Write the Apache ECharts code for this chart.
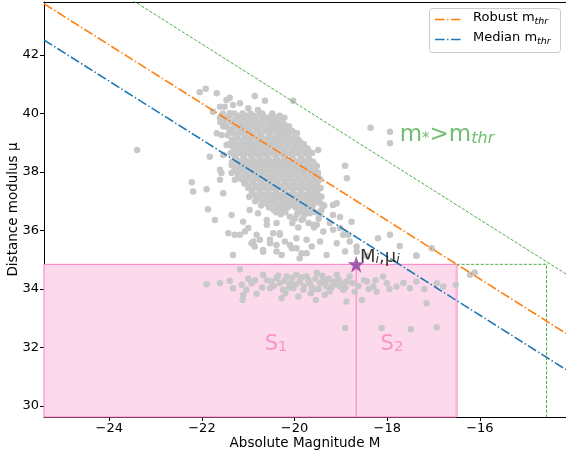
<!DOCTYPE html>
<html><head><meta charset="utf-8">
<script src="https://cdn.jsdelivr.net/npm/echarts@6/dist/echarts.min.js"></script>
<style>html,body{margin:0;padding:0;background:#fff}#c{width:566px;height:454px}</style>
</head><body><div id="c"></div>
<script>
// ---- axis ranges & ticks ----
const xRange = [-25.41, -14.14];
const yRange = [29.62, 43.81];
const xTicks = [-24, -22, -20, -18, -16];
const yTicks = [30, 32, 34, 36, 38, 40, 42];
// ---- thresholds (mu = m - M) ----
const robustMthr = 18.34;
const medianMthr = 17.10;
const limitMthr = 20.37;
// ---- reference galaxy ----
const refPoint = [-18.67, 34.84];
const s2RightM = -16.50;
const limitBoxM = -14.56;
// ---- galaxies [M, mu] ----
const galaxiesSparse = [
[-23.40,38.75],[-22.22,37.65],[-22.05,40.72],[-21.92,40.84],[-21.68,40.69],[-21.47,40.46],[-21.40,40.54],[-21.51,40.23],
[-21.33,40.29],[-21.18,40.35],[-20.86,40.60],[-20.64,40.43],[-20.79,40.12],[-21.00,40.18],[-21.11,39.95],[-20.93,39.89],
[-20.75,39.95],[-20.39,39.84],[-20.32,39.61],[-21.61,39.84],[-21.54,39.55],[-21.68,39.32],[-21.58,39.26],[-21.83,38.52],
[-21.54,38.58],[-21.36,38.24],[-21.58,37.96],[-21.36,37.96],[-20.03,40.43],[-20.14,39.15],[-19.49,38.75],[-20.32,39.26],
[-21.61,40.23],[-21.76,40.06],[-21.40,40.01],[-21.47,38.92],[-21.61,38.07],[-21.61,37.73],[-21.90,37.41],
[-22.19,37.33],[-21.87,36.72],[-21.72,36.36],[-21.54,37.27],[-21.36,36.53],[-21.43,35.90],[-21.29,35.85],[-21.18,35.85],
[-21.33,35.16],[-20.93,35.56],[-20.75,35.68],[-20.86,35.45],[-20.53,35.56],[-20.39,35.28],[-20.28,35.16],[-20.10,35.50],
[-19.96,35.39],[-19.85,35.22],[-19.74,35.68],[-19.63,35.45],[-19.45,35.62],[-19.31,35.16],[-19.17,36.87],[-18.77,36.30],
[-18.95,35.85],[-19.09,35.56],[-19.60,36.19],[-19.38,35.96],[-20.46,35.90],[-20.32,35.90],[-20.60,36.19],
[-21.11,36.30],[-21.00,36.08],[-21.07,35.96],[-20.82,35.85],[-20.89,35.62],[-20.68,35.33],[-20.53,35.68],[-20.32,35.85],
[-20.39,35.50],[-20.21,35.62],[-19.96,35.73],[-20.06,35.39],[-19.74,35.22],[-19.89,35.05],[-19.09,36.93],[-19.17,36.53],
[-19.24,36.25],[-19.02,36.08],[-18.84,35.85],[-18.66,35.45],[-18.91,35.28],[-19.67,36.59],[-19.52,36.19],[-19.85,36.36],
[-20.10,36.47],[-20.21,36.70],[-20.39,36.25],[-20.60,36.36],[-20.79,36.59],[-20.97,36.70],[-21.29,37.73],
[-18.36,39.51],[-17.94,39.37],[-17.94,38.98],[-18.91,38.21],[-18.87,37.78],[-19.02,36.46],[-19.17,36.02],[-18.91,35.90],
[-18.81,35.62],[-18.20,35.73],[-17.94,35.85],[-17.73,35.47],[-17.37,35.14],[-17.04,35.39],[-16.11,34.56],[-16.21,34.48],
[-20.68,35.27],[-18.66,35.27],[-18.44,35.13],[-17.37,35.13]
];
const galaxiesCore = [
[-21.55,40.00],[-21.30,40.00],[-21.12,40.00],[-20.95,40.00],[-20.70,40.00],[-20.48,40.00],
[-21.45,39.85],[-21.22,39.85],[-21.02,39.85],[-20.85,39.85],[-20.60,39.85],[-20.42,39.85],[-20.22,39.85],
[-21.60,39.70],[-21.38,39.70],[-21.15,39.70],[-20.98,39.70],[-20.78,39.70],[-20.55,39.70],[-20.35,39.70],
[-21.48,39.55],[-21.28,39.55],[-21.08,39.55],[-20.90,39.55],[-20.70,39.55],[-20.50,39.55],[-20.28,39.55],[-20.12,39.55],
[-21.40,39.40],[-21.20,39.40],[-21.00,39.40],[-20.82,39.40],[-20.62,39.40],[-20.44,39.40],[-20.25,39.40],[-20.05,39.40],
[-21.45,39.25],[-21.25,39.25],[-21.08,39.25],[-20.92,39.25],[-20.75,39.25],[-20.55,39.25],[-20.38,39.25],[-20.18,39.25],[-19.98,39.25],
[-21.35,39.10],[-21.15,39.10],[-20.98,39.10],[-20.80,39.10],[-20.62,39.10],[-20.45,39.10],[-20.28,39.10],[-20.10,39.10],[-19.92,39.10],
[-21.42,38.95],[-21.22,38.95],[-21.05,38.95],[-20.88,38.95],[-20.70,38.95],[-20.52,38.95],[-20.35,38.95],[-20.15,38.95],[-19.98,38.95],[-19.80,38.95],
[-21.30,38.80],[-21.12,38.80],[-20.95,38.80],[-20.78,38.80],[-20.60,38.80],[-20.42,38.80],[-20.25,38.80],[-20.05,38.80],[-19.88,38.80],[-19.72,38.80],
[-21.38,38.65],[-21.20,38.65],[-21.02,38.65],[-20.85,38.65],[-20.68,38.65],[-20.50,38.65],[-20.32,38.65],[-20.14,38.65],[-19.95,38.65],[-19.78,38.65],[-19.62,38.65],
[-21.28,38.50],[-21.10,38.50],[-20.92,38.50],[-20.75,38.50],[-20.58,38.50],[-20.40,38.50],[-20.22,38.50],[-20.05,38.50],[-19.86,38.50],[-19.70,38.50],
[-21.35,38.35],[-21.18,38.35],[-21.00,38.35],[-20.82,38.35],[-20.65,38.35],[-20.48,38.35],[-20.30,38.35],[-20.12,38.35],[-19.95,38.35],[-19.78,38.35],[-19.60,38.35],
[-21.25,38.20],[-21.08,38.20],[-20.90,38.20],[-20.72,38.20],[-20.55,38.20],[-20.38,38.20],[-20.20,38.20],[-20.02,38.20],[-19.85,38.20],[-19.68,38.20],[-19.52,38.20],
[-21.30,38.05],[-21.12,38.05],[-20.95,38.05],[-20.78,38.05],[-20.60,38.05],[-20.42,38.05],[-20.25,38.05],[-20.08,38.05],[-19.90,38.05],[-19.72,38.05],[-19.58,38.05],
[-21.22,37.90],[-21.05,37.90],[-20.88,37.90],[-20.70,37.90],[-20.52,37.90],[-20.35,37.90],[-20.18,37.90],[-20.00,37.90],[-19.82,37.90],[-19.65,37.90],[-19.50,37.90],
[-21.15,37.75],[-20.98,37.75],[-20.80,37.75],[-20.62,37.75],[-20.45,37.75],[-20.28,37.75],[-20.10,37.75],[-19.92,37.75],[-19.75,37.75],[-19.58,37.75],[-19.45,37.75],
[-21.08,37.60],[-20.90,37.60],[-20.72,37.60],[-20.55,37.60],[-20.38,37.60],[-20.20,37.60],[-20.02,37.60],[-19.85,37.60],[-19.68,37.60],[-19.52,37.60],
[-21.00,37.45],[-20.82,37.45],[-20.65,37.45],[-20.48,37.45],[-20.30,37.45],[-20.12,37.45],[-19.95,37.45],[-19.78,37.45],[-19.60,37.45],[-19.44,37.45],
[-20.92,37.30],[-20.75,37.30],[-20.58,37.30],[-20.40,37.30],[-20.22,37.30],[-20.05,37.30],[-19.88,37.30],[-19.70,37.30],[-19.55,37.30],
[-20.98,37.15],[-20.80,37.15],[-20.62,37.15],[-20.45,37.15],[-20.28,37.15],[-20.10,37.15],[-19.92,37.15],[-19.75,37.15],[-19.60,37.15],[-19.42,37.15],
[-20.85,37.00],[-20.68,37.00],[-20.50,37.00],[-20.32,37.00],[-20.15,37.00],[-19.98,37.00],[-19.80,37.00],[-19.64,37.00],[-19.48,37.00],
[-20.72,36.85],[-20.38,36.85],[-20.20,36.85],[-20.02,36.85],[-19.85,36.85],[-19.68,36.85],[-19.36,36.85],
[-20.45,36.70],[-20.28,36.70],[-19.92,36.70],[-19.75,36.70],[-19.42,36.70],
[-20.30,36.55],[-19.95,36.55],[-19.78,36.55],[-19.45,36.55],
[-20.00,36.40],[-19.82,36.40],[-19.48,36.40],
[-20.05,36.25],[-19.70,36.25],
[-19.92,36.10],[-19.58,36.10]
];
const galaxiesCoreFill = [
[-21.40,39.92],[-21.20,39.92],[-21.05,39.92],[-20.88,39.92],[-20.68,39.92],[-20.50,39.92],[-20.32,39.92],
[-21.50,39.78],[-21.28,39.78],[-21.08,39.78],[-20.90,39.78],[-20.70,39.78],[-20.45,39.78],[-20.28,39.78],
[-21.52,39.62],[-21.18,39.62],[-21.00,39.62],[-20.82,39.62],[-20.62,39.62],[-20.42,39.62],[-20.22,39.62],
[-21.35,39.48],[-21.15,39.48],[-20.98,39.48],[-20.78,39.48],[-20.55,39.48],[-20.35,39.48],[-20.18,39.48],
[-21.32,39.32],[-21.12,39.32],[-20.90,39.32],[-20.72,39.32],[-20.52,39.32],[-20.32,39.32],[-20.12,39.32],[-19.95,39.32],
[-21.25,39.18],[-21.05,39.18],[-20.88,39.18],[-20.70,39.18],[-20.52,39.18],[-20.35,39.18],[-20.18,39.18],[-20.00,39.18],
[-21.30,39.02],[-21.12,39.02],[-20.95,39.02],[-20.78,39.02],[-20.60,39.02],[-20.42,39.02],[-20.25,39.02],[-20.05,39.02],[-19.88,39.02],
[-21.35,38.88],[-21.20,38.88],[-21.02,38.88],[-20.85,38.88],[-20.68,38.88],[-20.50,38.88],[-20.32,38.88],[-20.14,38.88],[-19.96,38.88],[-19.80,38.88],
[-21.28,38.72],[-21.10,38.72],[-20.92,38.72],[-20.75,38.72],[-20.58,38.72],[-20.40,38.72],[-20.22,38.72],[-20.02,38.72],[-19.86,38.72],[-19.70,38.72],
[-21.30,38.58],[-21.12,38.58],[-20.95,38.58],[-20.78,38.58],[-20.60,38.58],[-20.42,38.58],[-20.25,38.58],[-20.05,38.58],[-19.88,38.58],[-19.72,38.58],
[-21.25,38.42],[-21.08,38.42],[-20.90,38.42],[-20.72,38.42],[-20.55,38.42],[-20.38,38.42],[-20.20,38.42],[-20.02,38.42],[-19.85,38.42],[-19.68,38.42],
[-21.30,38.28],[-21.15,38.28],[-20.98,38.28],[-20.80,38.28],[-20.62,38.28],[-20.45,38.28],[-20.28,38.28],[-20.10,38.28],[-19.92,38.28],[-19.75,38.28],[-19.58,38.28],
[-21.20,38.12],[-21.02,38.12],[-20.85,38.12],[-20.68,38.12],[-20.50,38.12],[-20.32,38.12],[-20.15,38.12],[-19.98,38.12],[-19.80,38.12],[-19.62,38.12],
[-21.22,37.98],[-21.05,37.98],[-20.88,37.98],[-20.70,37.98],[-20.52,37.98],[-20.35,37.98],[-20.16,37.98],[-19.98,37.98],[-19.80,37.98],[-19.64,37.98],[-19.50,37.98],
[-21.15,37.82],[-20.98,37.82],[-20.80,37.82],[-20.62,37.82],[-20.45,37.82],[-20.28,37.82],[-20.10,37.82],[-19.92,37.82],[-19.74,37.82],[-19.56,37.82],
[-21.08,37.68],[-20.90,37.68],[-20.72,37.68],[-20.55,37.68],[-20.38,37.68],[-20.20,37.68],[-20.02,37.68],[-19.84,37.68],[-19.66,37.68],[-19.50,37.68],
[-21.00,37.52],[-20.82,37.52],[-20.65,37.52],[-20.46,37.52],[-20.28,37.52],[-20.10,37.52],[-19.92,37.52],[-19.75,37.52],[-19.58,37.52],
[-20.92,37.38],[-20.75,37.38],[-20.58,37.38],[-20.40,37.38],[-20.22,37.38],[-20.04,37.38],[-19.86,37.38],[-19.68,37.38],[-19.50,37.38],
[-20.88,37.22],[-20.70,37.22],[-20.52,37.22],[-20.35,37.22],[-20.18,37.22],[-20.00,37.22],[-19.82,37.22],[-19.66,37.22],[-19.50,37.22],
[-20.78,37.08],[-20.60,37.08],[-20.42,37.08],[-20.25,37.08],[-20.06,37.08],[-19.88,37.08],[-19.72,37.08],[-19.56,37.08],
[-20.62,36.92],[-20.45,36.92],[-20.28,36.92],[-20.10,36.92],[-19.92,36.92],[-19.75,36.92],[-19.58,36.92],[-19.44,36.92],
[-20.55,36.78],[-20.35,36.78],[-20.15,36.78],[-19.98,36.78],[-19.80,36.78],[-19.62,36.78],
[-20.40,36.62],[-20.20,36.62],[-19.88,36.62],[-19.55,36.62]
];
const galaxiesLow = [
[-21.18,34.67],[-21.90,34.16],[-21.61,34.19],[-21.40,34.28],[-21.33,34.02],[-21.14,34.14],[-21.04,33.97],[-20.93,34.19],
[-21.11,33.79],[-20.82,33.83],[-20.68,34.48],[-20.50,34.25],[-20.53,34.02],[-20.39,34.37],[-20.32,34.19],[-20.25,33.97],
[-20.28,33.68],[-20.17,34.42],[-20.10,34.19],[-20.03,34.02],[-19.96,34.48],[-19.89,34.25],[-19.81,33.97],[-19.92,33.74],
[-19.74,34.42],[-19.67,34.19],[-19.60,33.97],[-19.52,34.54],[-19.45,34.19],[-19.38,34.31],[-19.31,34.08],[-19.24,33.91],
[-19.17,34.25],[-19.09,34.48],[-19.02,34.08],[-18.95,33.97],[-18.88,34.25],[-18.81,34.42],[-18.88,33.57],[-18.55,33.62],
[-18.44,34.25],[-18.30,34.08],[-18.23,33.91],[-18.09,34.42],[-18.01,34.19],[-17.80,34.08],[-17.51,34.02],[-17.37,34.25],
[-17.15,33.51],[-16.93,34.19],[-16.79,34.08],[-16.52,34.14],[-18.91,32.66],[-18.12,32.66],[-17.49,32.62],[-16.93,32.69],
[-19.54,33.62],[-21.12,33.62],
[-20.60,34.30],[-20.45,34.10],[-20.35,34.45],[-20.22,34.28],[-20.12,34.05],[-20.05,34.38],[-19.98,34.15],[-19.85,34.40],
[-19.80,34.10],[-19.70,34.30],[-19.62,34.05],[-19.55,34.35],[-19.48,34.00],[-19.40,34.45],[-19.33,34.18],[-19.26,34.35],
[-19.20,34.05],[-19.12,34.15],[-19.05,34.32],[-18.98,34.18],[-18.90,34.05],[-18.75,34.20],[-18.62,34.10],[-18.50,34.30],
[-18.40,34.00],[-20.70,34.05],[-20.85,34.30],[-21.00,34.35],[-20.20,33.85],[-19.65,33.85],[-19.35,33.80],[-18.70,33.90],
[-18.25,34.30],[-17.95,34.00],[-17.65,34.20],[-17.20,34.00]
];
// ---- labels ----
const xName = 'Absolute Magnitude M';
const yName = 'Distance modulus \u03bc';
const legendNames = ['Robust m', 'Median m'];

const FONT = 'DejaVu Sans';
const PINK = '#f781bf', GREEN = '#4daf4a', ORANGE = '#ff7f0e', BLUE = '#1f77b4', GREY = '#c8c8c8', PURPLE = '#984ea3';
const fmt = v => v < 0 ? '\u2212' + Math.abs(v) : String(v);
const lineOf = m => [[xRange[0], m - xRange[0]], [xRange[1], m - xRange[1]]];
const DASHDOT = [9.6, 2.4, 1.5, 2.4];

const chart = echarts.init(document.getElementById('c'), null, {renderer: 'canvas'});
const axisCommon = {
  type: 'value', splitLine: {show: false},
  axisLine: {show: true, onZero: false, lineStyle: {color: '#000', width: 1}},
  nameMoveOverlap: false,
  nameTextStyle: {fontFamily: FONT, fontSize: 13.5, color: '#000'}
};
const sub = (size, italic) => ({fontFamily: FONT, fontSize: size, fontStyle: italic ? 'italic' : 'normal', lineHeight: size, verticalAlign: 'bottom'});
const annot = (val, fmtStr, rich) => ({value: val, label: {show: true, position: 'inside', formatter: fmtStr, rich: rich}});

chart.setOption({
  animation: false,
  backgroundColor: '#fff',
  textStyle: {fontFamily: FONT},
  grid: {left: 44, right: 0, top: 2, bottom: 37, containLabel: false, outerBoundsMode: 'none'},
  xAxis: [
    Object.assign({}, axisCommon, {
      min: xRange[0], max: xRange[1], position: 'bottom',
      axisTick: {show: true, customValues: xTicks, length: 4, lineStyle: {color: '#000'}},
      axisLabel: {customValues: xTicks, formatter: fmt, fontFamily: FONT, fontSize: 13, color: '#000', margin: 5},
      name: xName, nameLocation: 'middle', nameGap: 19
    }),
    Object.assign({}, axisCommon, {min: xRange[0], max: xRange[1], position: 'top', axisTick: {show: false}, axisLabel: {show: false}})
  ],
  yAxis: Object.assign({}, axisCommon, {
    min: yRange[0], max: yRange[1],
    axisTick: {show: true, customValues: yTicks, length: 4, lineStyle: {color: '#000'}},
    axisLabel: {customValues: yTicks, formatter: fmt, fontFamily: FONT, fontSize: 13, color: '#000', margin: 5},
    name: yName, nameLocation: 'middle', nameGap: 24
  }),
  series: [
    {
      type: 'custom', z: 1, silent: true,
      data: [[xRange[0], yRange[0], s2RightM, refPoint[1]]],
      renderItem: (params, api) => {
        const a = api.coord([api.value(0), api.value(3)]);
        const b = api.coord([api.value(2), api.value(1)]);
        return {type: 'group', children: [
          {type: 'rect', shape: {x: a[0], y: a[1], width: b[0] - a[0], height: b[1] - a[1]}, style: {fill: '#fdd9ec', stroke: PINK, lineWidth: 1}},
          {type: 'line', shape: {x1: b[0], y1: a[1], x2: b[0], y2: b[1]}, style: {stroke: '#f9b6d8', lineWidth: 2.5}}
        ]};
      }
    },
    {type: 'line', z: 2, silent: true, symbol: 'none', data: [[refPoint[0], yRange[0]], refPoint], lineStyle: {color: PINK, width: 1}},
    {type: 'scatter', z: 3, silent: true, symbolSize: 6.5, itemStyle: {color: GREY, opacity: 1},
      data: galaxiesCore.concat(galaxiesCoreFill, galaxiesSparse, galaxiesLow)},
    {type: 'line', z: 4, symbol: 'none', data: lineOf(limitMthr), lineStyle: {color: GREEN, width: 1, type: [3.2, 1.6]}},
    {type: 'line', z: 4, symbol: 'none', data: [[s2RightM, refPoint[1]], [limitBoxM, refPoint[1]], [limitBoxM, yRange[0]]], lineStyle: {color: GREEN, width: 1, type: [3.2, 1.6]}},
    {type: 'line', z: 5, symbol: 'none', data: lineOf(robustMthr), lineStyle: {color: ORANGE, width: 1.6, type: DASHDOT}},
    {type: 'line', z: 5, symbol: 'none', data: lineOf(medianMthr), lineStyle: {color: BLUE, width: 1.6, type: DASHDOT}},
    {type: 'scatter', z: 6, symbol: 'path://M50,0 L61.8,35.5 L100,35.5 L69.1,57.3 L80.9,93.5 L50,71.5 L19.1,93.5 L30.9,57.3 L0,35.5 L38.2,35.5 Z',
      symbolSize: 17, itemStyle: {color: PURPLE, opacity: 0.9}, data: [refPoint]},
    {type: 'scatter', z: 7, symbolSize: 1, itemStyle: {color: 'transparent'}, silent: true,
      data: [
        annot([-18.16, 35.09], '{a|M}{s|i}{a|,\u03bc}{s|i}', {a: {fontFamily: FONT, fontSize: 18, color: '#000', lineHeight: 18, verticalAlign: 'top'}, s: Object.assign(sub(12.5, true), {color: '#000'})}),
        annot([-20.40, 32.10], '{a|S}{s|1}', {a: {fontFamily: FONT, fontSize: 21, color: PINK, lineHeight: 21, verticalAlign: 'top'}, s: Object.assign(sub(14.5, false), {color: PINK})}),
        annot([-17.90, 32.10], '{a|S}{s|2}', {a: {fontFamily: FONT, fontSize: 21, color: PINK, lineHeight: 21, verticalAlign: 'top'}, s: Object.assign(sub(14.5, false), {color: PINK})}),
        annot([-16.71, 39.26], '{a|m}{s|*}{a|>m}{t|thr}', {a: {fontFamily: FONT, fontSize: 23, color: GREEN, lineHeight: 23, verticalAlign: 'top'}, s: Object.assign(sub(15, false), {color: GREEN}), t: Object.assign(sub(16, true), {color: GREEN})})
      ]}
  ],
  graphic: [
    {type: 'rect', z: 100, shape: {x: 429.5, y: 8.5, width: 131, height: 44, r: 3}, style: {fill: 'rgba(255,255,255,0.85)', stroke: '#cccccc', lineWidth: 1}},
    {type: 'line', z: 101, shape: {x1: 435, y1: 19.5, x2: 462, y2: 19.5}, style: {stroke: ORANGE, lineWidth: 1.6, lineDash: DASHDOT}},
    {type: 'line', z: 101, shape: {x1: 435, y1: 39.5, x2: 462, y2: 39.5}, style: {stroke: BLUE, lineWidth: 1.6, lineDash: DASHDOT}},
    {type: 'text', z: 101, x: 473, y: 11, style: {text: '{a|' + legendNames[0] + '}{s|thr}', rich: {a: {fontFamily: FONT, fontSize: 13, fill: '#000', lineHeight: 16, verticalAlign: 'top'}, s: {fontFamily: FONT, fontSize: 9.5, fontStyle: 'italic', fill: '#000', lineHeight: 9, verticalAlign: 'bottom'}}}},
    {type: 'text', z: 101, x: 473, y: 31, style: {text: '{a|' + legendNames[1] + '}{s|thr}', rich: {a: {fontFamily: FONT, fontSize: 13, fill: '#000', lineHeight: 16, verticalAlign: 'top'}, s: {fontFamily: FONT, fontSize: 9.5, fontStyle: 'italic', fill: '#000', lineHeight: 9, verticalAlign: 'bottom'}}}}
  ]
});
</script></body></html>
